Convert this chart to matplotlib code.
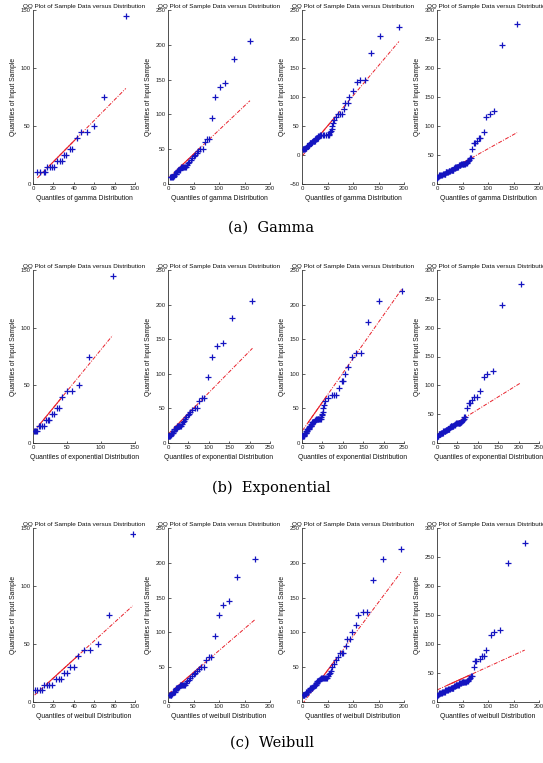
import numpy as np
import matplotlib
matplotlib.use("Agg")
import matplotlib.pyplot as plt

plt.rcParams["font.family"] = ["Liberation Sans", "DejaVu Sans"]

# ---------------- data ----------------
# sorted sample quantiles (same sample in each column)
sample_c1 = [10, 10, 10, 10, 15, 15, 15, 15, 20, 20, 20, 25, 25, 30, 30, 40, 45, 45, 50, 75, 145]
sample_c2 = [10, 10, 10, 10, 12, 15, 15, 15, 15, 18,
             20, 20, 20, 22, 25, 25, 25, 25, 25, 25,
             27, 30, 32, 35, 37, 40, 42, 45, 47, 50,
             50, 60, 65, 65, 95, 125, 140, 145, 180, 205]
sample_c3 = [10, 10, 10, 10, 12, 12, 15, 15, 15, 15,
             17, 18, 20, 20, 20, 20, 22, 23, 25, 25,
             25, 25, 27, 28, 30, 30, 30, 30, 32, 33,
             35, 35, 35, 35, 35, 35, 35, 37, 40, 42,
             45, 50, 55, 60, 65, 70, 70, 70, 80, 90,
             90, 100, 110, 125, 130, 130, 175, 205, 220]
sample_c4 = [10, 12, 13, 15, 15, 15, 15, 17, 17, 18,
             18, 20, 20, 20, 20, 22, 22, 23, 25, 25,
             25, 25, 25, 27, 28, 30, 30, 30, 30, 30,
             32, 32, 33, 35, 35, 35, 35, 35, 35, 37,
             37, 38, 40, 42, 45, 45, 60, 70, 70, 75,
             80, 80, 90, 115, 120, 125, 240, 275]

# theoretical quantiles, gamma row
gamma_c1 = [4.3, 7.2, 10.5, 11.5, 14, 16.4, 18.4, 20.7, 23.6, 26, 28, 30.5, 32.8, 36, 38.7, 43, 47.5, 52.5, 60, 70, 91]
gamma_c2 = [3, 5, 7, 9, 11, 12, 13.5, 15, 16.5, 18,
            19, 21, 23, 24, 26, 28, 30, 32, 34, 36,
            37, 39, 42, 45, 48, 50, 53, 56, 58, 62,
            69, 72, 77, 80, 86.5, 93, 102, 111.5, 129, 160.7]
gamma_c3 = [1, 2.5, 4, 5.5, 7, 8, 9, 10, 11, 12,
            13, 14, 15, 16, 17, 18, 19, 20, 21, 23,
            24, 25, 26, 27, 28, 29, 30, 31, 32, 33,
            35, 38, 41, 44, 47, 50, 52, 53, 55, 57,
            58, 59, 61, 63, 67, 70, 74.7, 78.6, 83, 85,
            89.6, 91.5, 100.6, 107, 114, 124, 135, 153, 190]
gamma_c4 = [0.5, 1.5, 3, 4.5, 6, 8, 10, 12, 14, 15,
            16, 17, 18.5, 20, 21.5, 23, 24.5, 26, 27, 28.5,
            30, 31, 32, 33, 35, 36, 37, 38.5, 40, 41.5,
            43, 44.5, 46, 47, 48.5, 50, 51.5, 53, 55, 57,
            58, 59, 60, 62, 64, 66, 68, 72.7, 74, 78,
            82, 85, 91.5, 96, 104, 112, 128, 157]

# theoretical quantiles, exponential row
expo_c1 = [1, 2.5, 4, 6, 8.2, 10.6, 13.5, 16.8, 19, 21.5, 24, 27.4, 30.3, 34.6, 38.5, 43, 50, 57.7, 67, 83, 117]
expo_c2 = [1, 2, 3.5, 5, 7, 8, 9.5, 11, 12.5, 14,
           15, 17, 19, 21, 22, 24, 26, 28, 30, 32,
           34, 36, 39, 42, 45, 48, 51, 55, 58, 65,
           71, 77, 83, 88.8, 97.7, 107.5, 119, 134, 158, 207]
expo_c3 = [1, 2, 3, 4, 5, 6, 7, 8, 9, 10,
           11, 12, 13, 14, 15, 16, 17, 18, 19, 20,
           21, 22, 23, 24, 25, 26.5, 28, 29.5, 31, 32.5,
           34, 36, 38, 40, 42, 44, 46, 47.5, 49, 50,
           50.5, 52, 53, 57, 62.7, 73, 79, 83, 89.6, 97.7,
           100.9, 106, 113, 122, 133.5, 144, 162, 189, 244]
expo_c4 = [0.5, 1.5, 2.5, 4, 5.5, 7, 8.5, 10, 11.5, 13,
           14, 15.5, 17, 18.5, 20, 21.5, 23, 24.5, 26, 27,
           28, 29, 30, 31, 32, 33.5, 35, 36.5, 38, 40,
           42, 43.5, 45, 47, 49, 51, 53, 55, 57, 59,
           60, 62, 63.5, 65, 67, 68.5, 74, 78, 80, 85,
           90, 97, 105.6, 114.5, 123, 138, 160, 205.6]

# theoretical quantiles, weibull row
weib_c1 = [1.6, 4.3, 6.6, 9.2, 11, 13.5, 15.8, 19, 22.4, 25, 27.4, 30, 33.3, 36.3, 40.6, 44.6, 50, 55.4, 63.7, 74.6, 97.7]
weib_c2 = [2, 3.5, 5, 6.5, 8, 9, 10.5, 12, 13.5, 15,
           16, 18, 20, 22, 24, 26, 28, 30, 32, 34,
           36, 38, 41, 44, 47, 50, 53, 57, 60, 65.6,
           70.8, 75.4, 80, 85, 91.8, 99.7, 107.5, 119, 135.7, 170.5]
weib_c3 = [1, 2, 3, 4, 5.5, 7, 8, 9.5, 11, 12,
           13.5, 15, 16, 17.5, 19, 20, 21.5, 23, 24, 25,
           26, 27, 28, 29, 30, 31, 32, 33, 34, 35,
           37, 39, 41, 43, 45, 47, 49, 51, 53, 55,
           57, 59, 62, 66, 71, 74, 78, 80, 86, 89,
           94, 99, 105.5, 110.7, 120, 128, 140, 159, 194]
weib_c4 = [0.5, 1.5, 3, 4.5, 6, 7.5, 9, 10.5, 12, 13.5,
           15, 16.5, 18, 19.5, 21, 22.5, 24, 25.5, 27, 28.5,
           30, 31, 32, 33.5, 35, 36.5, 38, 39.5, 41, 42.5,
           44, 45.5, 47, 48.5, 50, 51.5, 53, 54.5, 56, 58,
           60, 61.5, 63, 65, 67, 69, 73, 75, 77.4, 84,
           88, 91.6, 96.8, 105, 111.6, 124.5, 138.7, 172]

# reference line (slope, intercept) per panel, row-major
ref_slope = [0.89, 0.695, 1.04, 0.49,
             0.72, 0.60, 0.84, 0.44,
             0.80, 0.63, 0.98, 0.40]
ref_icept = [1.4, 8.0, -2.0, 11.7,
             9.0, 12.7, 17.0, 14.0,
             4.7, 10.9, -3.7, 20.7]

dist_names = ["gamma", "exponential", "weibull"]
captions = ["(a)  Gamma", "(b)  Exponential", "(c)  Weibull"]
xlims = [[100, 200, 200, 200], [150, 250, 250, 250], [100, 200, 200, 200]]
xsteps = [[20, 50, 50, 50], [50, 50, 50, 50], [20, 50, 50, 50]]
ylims = [[(0, 150), (0, 250), (-50, 250), (0, 300)],
         [(0, 150), (0, 250), (0, 250), (0, 300)],
         [(0, 150), (0, 250), (0, 250), (0, 300)]]

samples = [sample_c1, sample_c2, sample_c3, sample_c4]
theo = [[gamma_c1, gamma_c2, gamma_c3, gamma_c4],
        [expo_c1, expo_c2, expo_c3, expo_c4],
        [weib_c1, weib_c2, weib_c3, weib_c4]]

# ---------------- layout ----------------
W, H = 543, 763
fig = plt.figure(figsize=(W / 100, H / 100), dpi=100)
col_left = [33, 168, 302, 437]
ax_w = 102
row_top = [10, 270, 528]
row_bot = [184, 443, 702]
caption_y = [228, 488, 743]

blue = "#1414c0"
red = "#e8202a"

for r in range(3):
    for c in range(4):
        ax = fig.add_axes([col_left[c] / W, 1 - row_bot[r] / H,
                           ax_w / W, (row_bot[r] - row_top[r]) / H])
        x = np.array(theo[r][c], dtype=float)
        y = np.array(samples[c], dtype=float)
        k = r * 4 + c
        m, b0 = ref_slope[k], ref_icept[k]
        q1, q3 = np.percentile(x, [25, 75])
        xl = np.array([x.min(), x.max()])
        ax.plot(xl, m * xl + b0, color=red, lw=0.7, ls=(0, (4, 1.5, 1, 1.5)), zorder=2)
        xs = np.array([q1, q3])
        ax.plot(xs, m * xs + b0, color=red, lw=0.8, ls="-", zorder=2)
        ax.plot(x, y, ls="none", marker="+", ms=3.8, mew=0.9, color=blue, zorder=3)

        ax.set_xlim(0, xlims[r][c])
        ax.set_ylim(*ylims[r][c])
        ax.set_xticks(np.arange(0, xlims[r][c] + 1, xsteps[r][c]))
        ax.set_yticks(np.arange(ylims[r][c][0], ylims[r][c][1] + 1, 50))
        for s in ["top", "right"]:
            ax.spines[s].set_visible(False)
        for s in ["left", "bottom"]:
            ax.spines[s].set_linewidth(0.6)
            ax.spines[s].set_color("#333333")
        ax.tick_params(direction="in", length=1.8, width=0.5, labelsize=4.3,
                       pad=1.5, colors="#222222")
        ax.set_title("QQ Plot of Sample Data versus Distribution", fontsize=4.6,
                     pad=1.5, color="#111111")
        ax.set_xlabel("Quantiles of %s Distribution" % dist_names[r], fontsize=4.9,
                      labelpad=2.5, color="#111111")
        ax.set_ylabel("Quantiles of Input Sample", fontsize=4.9, labelpad=2.5,
                      color="#111111")
    fig.text(0.5, 1 - caption_y[r] / H, captions[r], ha="center", va="center",
             fontsize=10.5, family="DejaVu Serif")

fig.savefig("out.png", dpi=100)
